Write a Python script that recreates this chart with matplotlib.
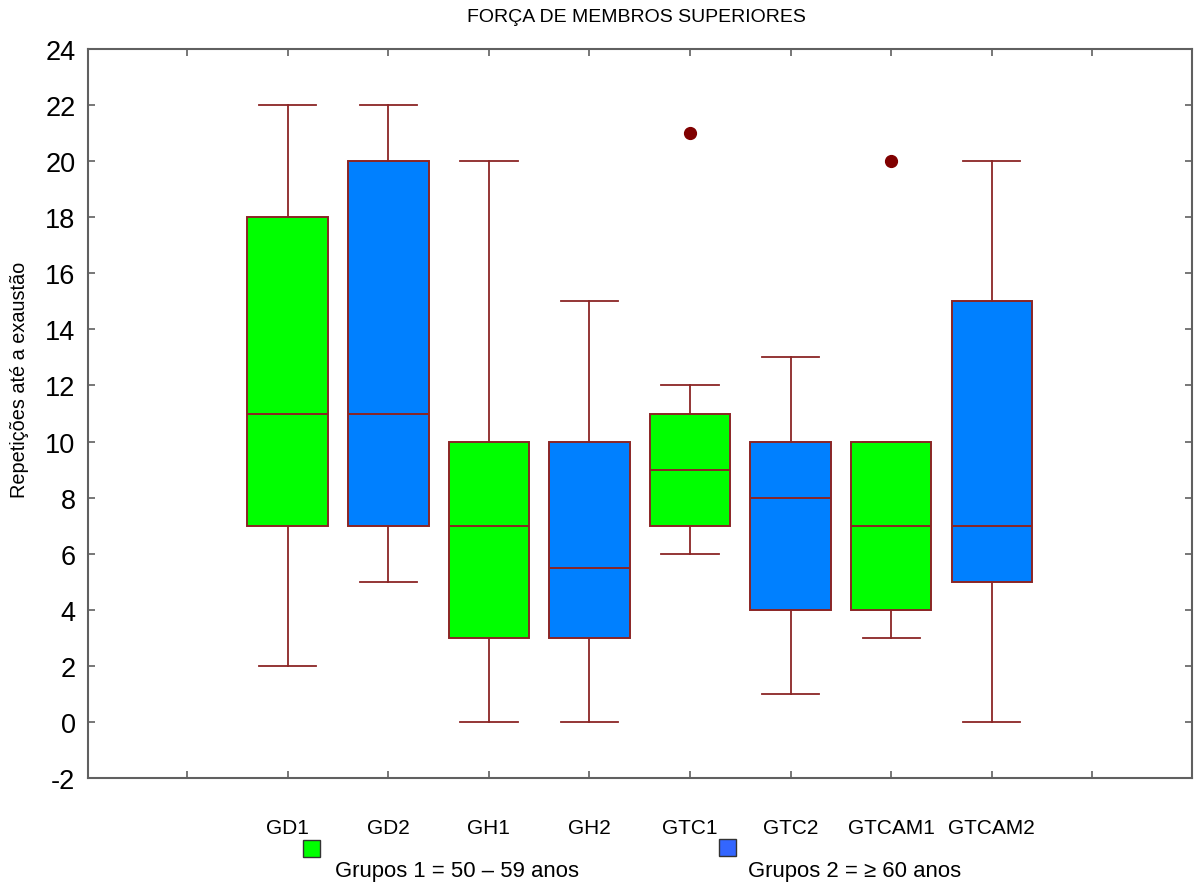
import matplotlib
matplotlib.use("Agg")
import matplotlib.pyplot as plt
from matplotlib.patches import Rectangle

plt.rcParams['font.family'] = ['Liberation Sans', 'DejaVu Sans']
plt.rcParams['axes.unicode_minus'] = False

# Data
categories = ["GD1", "GD2", "GH1", "GH2", "GTC1", "GTC2", "GTCAM1", "GTCAM2"]
whisker_low = [2, 5, 0, 0, 6, 1, 3, 0]
q1 = [7, 7, 3, 3, 7, 4, 4, 5]
median = [11, 11, 7, 5.5, 9, 8, 7, 7]
q3 = [18, 20, 10, 10, 11, 10, 10, 15]
whisker_high = [22, 22, 20, 15, 12, 13, 10, 20]
outliers = [[], [], [], [], [21], [], [20], []]
groups = [1, 2, 1, 2, 1, 2, 1, 2]
title = "FORÇA DE MEMBROS SUPERIORES"
ylabel = "Repetições até a exaustão"
legend_labels = ["Grupos 1 = 50 – 59 anos", "Grupos 2 = ≥ 60 anos"]

green = "#00FF00"
blue = "#0080FF"
legend_blue = "#3366FF"
edge = "#8B2525"
out_color = "#800000"

fig = plt.figure(figsize=(11.95, 8.87), dpi=100)
ax = fig.add_axes([88/1195, 1-779/887, (1192-88)/1195, (779-50)/887])

stats = []
for i in range(len(categories)):
    stats.append(dict(label=categories[i], whislo=whisker_low[i], q1=q1[i],
                      med=median[i], q3=q3[i], whishi=whisker_high[i],
                      fliers=outliers[i]))
positions = list(range(1, len(categories) + 1))
bp = ax.bxp(stats, positions=positions, widths=0.8, patch_artist=True,
            showfliers=True,
            boxprops=dict(edgecolor=edge, linewidth=1.4),
            medianprops=dict(color=edge, linewidth=1.4),
            whiskerprops=dict(color=edge, linewidth=1.3),
            capprops=dict(color=edge, linewidth=1.3),
            capwidths=0.57,
            flierprops=dict(marker='o', markerfacecolor=out_color,
                            markeredgecolor=out_color, markersize=8.5))
for patch, g in zip(bp['boxes'], groups):
    patch.set_facecolor(green if g == 1 else blue)

ax.set_xlim(-0.985, 9.99)
ax.set_ylim(-2, 24)
ax.set_yticks(range(-2, 25, 2))
ax.set_xticks(range(0, 10))
ax.set_xticklabels([""] + categories + [""])
ax.tick_params(axis='both', direction='in', length=5, width=1.2, color='#606060',
               top=True, right=True)
ax.tick_params(axis='y', labelsize=19.5, pad=9)
ax.tick_params(axis='x', labelsize=15, pad=28.5)
for s in ax.spines.values():
    s.set_color('#606060')
    s.set_linewidth(1.5)

fig.text(636/1195, 1-18/887, title, ha='center', va='center', fontsize=14)
fig.text(20/1195, 1-380/887, ylabel, ha='center', va='center', rotation=90, fontsize=14.3)

# Legend
for (x0, y0, col, tx, lab) in [(303, 841, green, 335, legend_labels[0]),
                               (719, 840, legend_blue, 748, legend_labels[1])]:
    fig.patches.append(Rectangle((x0/1195, 1-(y0+17)/887), 17/1195, 17/887,
                                 transform=fig.transFigure, facecolor=col,
                                 edgecolor='#333333', linewidth=1))
    fig.text(tx/1195, 1-872/887, lab, ha='left', va='center', fontsize=15.9)

fig.savefig("out.png", dpi=100)
